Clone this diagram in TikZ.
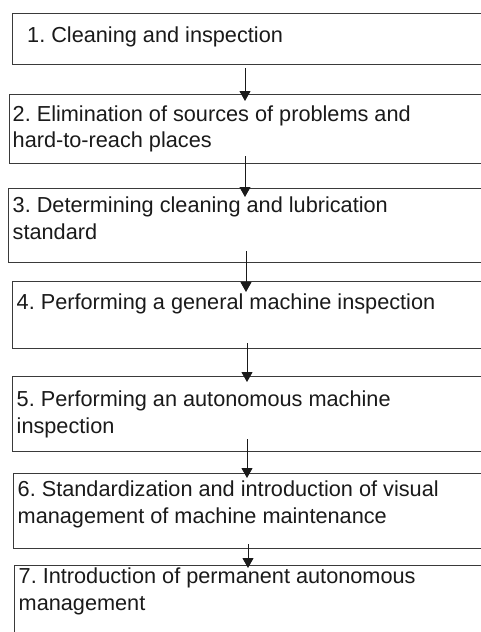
\documentclass[tikz,border=0pt]{standalone}
\usepackage{fontspec}
\setmainfont{Liberation Sans}
\usetikzlibrary{arrows.meta,calc}
\definecolor{edge}{HTML}{3A3A3A}
\definecolor{ink}{HTML}{1A1A1A}
\frenchspacing
\begin{document}
\begin{tikzpicture}[x=1pt,y=-1pt,
  stepbox/.style={draw=edge,line width=1.1pt,rectangle,inner sep=0pt,anchor=north west},
  % base anchor of a multi-line label sits on its last line
  steptext/.style={text=ink,inner sep=0pt,anchor=base west,align=left,
    font=\fontsize{21.7}{26.5}\selectfont},
  flow/.style={draw=ink,line width=1pt,-{Triangle[length=10pt,width=11pt]}}]
\useasboundingbox (0,0) rectangle (481,632);
\clip (0,0) rectangle (481,632);
\fill[white] (0,0) rectangle (481,632);

% step boxes (they run past the right edge)
\node[stepbox,minimum width=480pt,minimum height=51pt] (b1) at (12,13) {};
\node[stepbox,minimum width=480pt,minimum height=69pt] (b2) at (9,94) {};
\node[stepbox,minimum width=480pt,minimum height=74pt] (b3) at (8,188) {};
\node[stepbox,minimum width=480pt,minimum height=67pt] (b4) at (11.5,281) {};
\node[stepbox,minimum width=480pt,minimum height=75pt] (b5) at (12,376) {};
\node[stepbox,minimum width=480pt,minimum height=75pt] (b6) at (13,473) {};
\node[stepbox,minimum width=480pt,minimum height=80pt] (b7) at (14,565) {};

% step labels
\node[steptext] (t1) at (27,42) {1. Cleaning and inspection};
\node[steptext] (t2) at (12.5,147.5) {2. Elimination\ of sources of problems and\\hard-to-reach places};
\node[steptext] (t3) at (12.5,239) {3. Determining cleaning and lubrication\\standard};
\node[steptext] (t4) at (16.5,309) {4. Performing a general machine inspection};
\node[steptext] (t5) at (16.5,433) {5. Performing an autonomous machine\\inspection};
\node[steptext] (t6) at (17.5,523) {6. Standardization and introduction of visual\\management of machine maintenance};
\node[steptext] (t7) at (18.5,610) {7. Introduction of permanent autonomous\\management};

% connectors
\coordinate (x1) at (245,0);
\coordinate (x2) at (245,0);
\coordinate (x3) at (246,0);
\coordinate (x4) at (247,0);
\coordinate (x5) at (247,0);
\coordinate (x6) at (248,0);
\draw[flow] ($(b1.south -| x1)+(0,3)$) -- ($(b2.north -| x1)+(0,7)$);
\draw[flow] ($(b2.south -| x2)+(0,-8)$) -- ($(b3.north -| x2)+(0,9)$);
\draw[flow] ($(b3.south -| x3)+(0,-12)$) -- ($(b4.north -| x3)+(0,11)$);
\draw[flow] ($(b4.south -| x4)+(0,-6)$) -- ($(b5.north -| x4)+(0,6)$);
\draw[flow] ($(b5.south -| x5)+(0,-13)$) -- ($(b6.north -| x5)+(0,5)$);
\draw[flow] ($(b6.south -| x6)+(0,-5)$) -- ($(b7.north -| x6)+(0,3)$);
\end{tikzpicture}
\end{document}
